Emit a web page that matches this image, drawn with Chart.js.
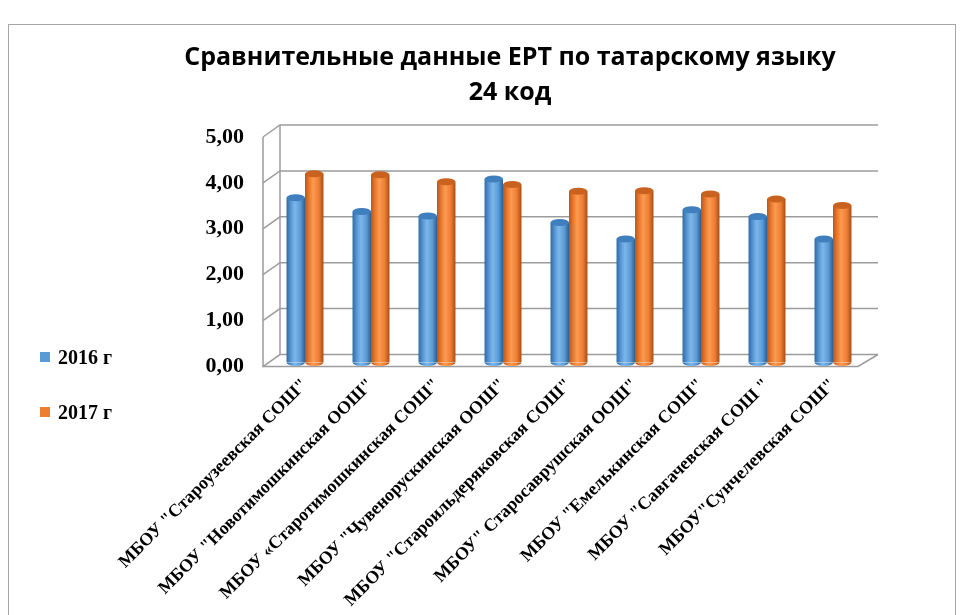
<!DOCTYPE html>
<html lang="ru">
<head>
  <meta charset="UTF-8" />
  <title>Сравнительные данные ЕРТ по татарскому языку</title>
  <style>
    body {
      margin: 0;
      padding: 0;
      background: #fff;
    }

    .wrap {
      position: relative;
      width: 968px;
      height: 615px;
      overflow: hidden;
    }

    .frame {
      position: absolute;
      left: 8px;
      top: 24px;
      width: 946px;
      height: 620px;
      border: 1px solid #a6a6a6;
      pointer-events: none;
    }

    #chart {
      position: absolute;
      left: 0;
      top: 0;
    }

    .legend {
      position: absolute;
      left: 40px;
      top: 344px;
      font-family: "Liberation Serif", "Times New Roman", serif;
      font-weight: bold;
      font-size: 20px;
      color: #000;
    }

    .legend div {
      height: 55px;
      line-height: 26px;
    }

    .legend span.box {
      display: inline-block;
      width: 10px;
      height: 10px;
      margin-right: 8px;
      vertical-align: 2px;
    }
  </style>
  <script src="https://cdn.jsdelivr.net/npm/chart.js"></script>
</head>
<body>
  <div class="wrap">
    <canvas id="chart" width="968" height="615"></canvas>
    <div class="frame"></div>
    <div class="legend" id="legend"></div>
  </div>

  <script>
    const schools = [
      'МБОУ "Староузеевская СОШ"',
      'МБОУ "Новотимошкинская ООШ"',
      'МБОУ «Старотимошкинская СОШ"',
      'МБОУ "Чувенорускинская ООШ"',
      'МБОУ "Староильдеряковская СОШ"',
      'МБОУ" Старосаврушская ООШ"',
      'МБОУ "Емелькинская СОШ"',
      'МБОУ "Савгачевская СОШ "',
      'МБОУ"Сунчелевская СОШ"'
    ];
    const seriesNames = ["2016 г", "2017 г"];
    const values2016 = [3.59, 3.29, 3.19, 4.00, 3.05, 2.69, 3.33, 3.18, 2.69];
    const values2017 = [4.11, 4.09, 3.94, 3.88, 3.73, 3.74, 3.67, 3.56, 3.42];
    const yTicks = [0, 1, 2, 3, 4, 5];

    const colors = ["#5B9BD5", "#ED7D31"];
    const shades = [
      ["#2f6aa3", "#5a99d6", "#7db6ea", "#5b9bd5", "#2c5f92"],
      ["#b9561a", "#ed7d31", "#fb9a52", "#ed7d31", "#a94d14"]
    ];
    const capColors = ["#3f7fbd", "#c9621f"];

    // legend
    document.getElementById("legend").innerHTML = seriesNames.map((n, i) =>
      `<div><span class="box" style="background:${colors[i]}"></span>${n}</div>`).join("");

    // back wall, grid lines and floor drawn from the scales
    const wall3d = {
      id: "wall3d",
      beforeDatasetsDraw(chart) {
        const ctx = chart.ctx;
        const a = chart.chartArea;
        const y = chart.scales.y;
        const fx = a.left - 9, bx = a.left + 8, rx = a.right + 12;
        const y0 = y.getPixelForValue(0), y5 = y.getPixelForValue(5);
        ctx.save();
        ctx.strokeStyle = "#9c9c9c";
        ctx.lineWidth = 1.5;
        yTicks.forEach(v => {
          const p = y.getPixelForValue(v);
          ctx.beginPath();
          ctx.moveTo(fx, p + 4);
          ctx.lineTo(bx, p - 8);
          ctx.lineTo(rx, p - 8);
          ctx.stroke();
        });
        ctx.beginPath();
        ctx.moveTo(bx, y0 - 8);
        ctx.lineTo(bx, y5 - 8);
        ctx.stroke();
        ctx.beginPath();
        ctx.moveTo(fx, y5 + 4);
        ctx.lineTo(fx, y0 + 4);
        ctx.lineTo(a.right - 8, y0 + 4);
        ctx.lineTo(rx, y0 - 8);
        ctx.stroke();
        ctx.restore();

        // cylinder shading for each bar
        chart.data.datasets.forEach((ds, di) => {
          chart.getDatasetMeta(di).data.forEach(el => {
            const g = ctx.createLinearGradient(el.x - el.width / 2, 0, el.x + el.width / 2, 0);
            const s = shades[di];
            g.addColorStop(0, s[0]);
            g.addColorStop(0.25, s[1]);
            g.addColorStop(0.45, s[2]);
            g.addColorStop(0.75, s[3]);
            g.addColorStop(1, s[4]);
            el.options = Object.assign({}, el.options, { backgroundColor: g });
            el.$grad = g;
          });
        });
      },
      afterDatasetsDraw(chart) {
        const ctx = chart.ctx;
        ctx.save();
        chart.data.datasets.forEach((ds, di) => {
          chart.getDatasetMeta(di).data.forEach(el => {
            const rx = el.width / 2;
            // rounded base
            ctx.beginPath();
            ctx.ellipse(el.x, el.base, rx, 3.5, 0, 0, Math.PI);
            ctx.fillStyle = el.$grad;
            ctx.fill();
            // top cap
            ctx.beginPath();
            ctx.ellipse(el.x, el.y, rx, 3.5, 0, 0, Math.PI * 2);
            ctx.fillStyle = capColors[di];
            ctx.fill();
          });
        });
        ctx.restore();
      }
    };

    new Chart(document.getElementById("chart"), {
      type: "bar",
      data: {
        labels: schools,
        datasets: [
          { label: seriesNames[0], data: values2016, backgroundColor: colors[0] },
          { label: seriesNames[1], data: values2017, backgroundColor: colors[1] }
        ]
      },
      options: {
        responsive: false,
        animation: false,
        categoryPercentage: 0.56,
        barPercentage: 1.0,
        layout: {
          padding: { left: 154, right: 102, top: 19, bottom: 0 }
        },
        plugins: {
          legend: { display: false },
          tooltip: { enabled: false },
          title: {
            display: true,
            text: ["Сравнительные данные ЕРТ по татарскому языку", "24 код"],
            color: "#000",
            font: { family: "'Open Sans', sans-serif", size: 25, weight: "bold", lineHeight: 1.4 },
            padding: { top: 21, bottom: 23 }
          }
        },
        scales: {
          x: {
            grid: { display: false },
            border: { display: false },
            ticks: {
              color: "#000",
              maxRotation: 45,
              minRotation: 45,
              autoSkip: false,
              padding: 4,
              font: { family: "'Liberation Serif', 'Times New Roman', serif", size: 18, weight: "bold" }
            }
          },
          y: {
            min: 0,
            max: 5,
            grid: { display: false },
            border: { display: false },
            afterFit: scale => { scale.width = 118; },
            ticks: {
              stepSize: 1,
              color: "#000",
              padding: 20,
              labelOffset: 4,
              font: { family: "'Liberation Serif', 'Times New Roman', serif", size: 22, weight: "bold" },
              callback: v => v.toFixed(2).replace(".", ",")
            }
          }
        }
      },
      plugins: [wall3d]
    });
  </script>
</body>
</html>
